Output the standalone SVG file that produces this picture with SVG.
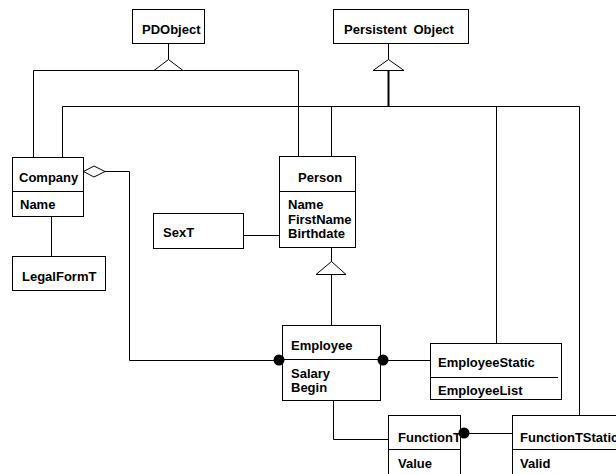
<svg xmlns="http://www.w3.org/2000/svg" width="616" height="474" viewBox="0 0 616 474">
<style>
.box{fill:#fff;stroke:#000;stroke-width:1}
.ln{fill:none;stroke:#000;stroke-width:1}
.tri{fill:#fff;stroke:#000;stroke-width:1}
.dot{fill:#000}
text{font-family:"Liberation Sans",Arial,sans-serif;font-weight:bold;font-size:13px;fill:#000}
</style>
<rect width="616" height="474" fill="#fff"/>
<g id="connectors">
<polyline class="ln" points="33.5,157 33.5,70.5 298.5,70.5 298.5,157"/>
<line class="ln" x1="168.5" y1="43.5" x2="168.5" y2="60"/>
<polygon class="tri" points="168.5,59.5 154,70.5 183,70.5"/>
<polyline class="ln" points="62.5,157 62.5,106.5 579.5,106.5 579.5,415.5"/>
<line class="ln" x1="331.5" y1="106.5" x2="331.5" y2="157"/>
<line class="ln" x1="496.5" y1="106.5" x2="496.5" y2="343.5"/>
<line class="ln" x1="388.5" y1="43.5" x2="388.5" y2="60"/>
<line class="ln" style="stroke-width:2" x1="388.5" y1="70" x2="388.5" y2="107"/>
<polygon class="tri" points="388.5,59.5 373,70.5 404,70.5"/>
<polyline class="ln" points="105,171.5 129.5,171.5 129.5,360.5 279,360.5"/>
<polygon class="tri" points="83.5,171.5 94,166 105,171.5 94,177"/>
<line class="ln" x1="51.5" y1="216.5" x2="51.5" y2="256.5"/>
<line class="ln" x1="243.5" y1="235.5" x2="279.5" y2="235.5"/>
<line class="ln" x1="331.5" y1="247.5" x2="331.5" y2="325.5"/>
<polygon class="tri" points="331.5,261.5 316,274.5 346,274.5"/>
<line class="ln" x1="383" y1="360.5" x2="430.5" y2="360.5"/>
<polyline class="ln" points="333.5,400.5 333.5,439.5 388.5,439.5"/>
<line class="ln" x1="464" y1="433.5" x2="512.5" y2="433.5"/>
</g>
<g id="PDObject">
<rect class="box" x="132.5" y="9.5" width="72" height="34"/>
<text x="142" y="34">PDObject</text>
</g>
<g id="PersistentObject">
<rect class="box" x="333.5" y="9.5" width="135" height="34"/>
<text x="344" y="34" style="word-spacing:3px">Persistent Object</text>
</g>
<g id="Company">
<rect class="box" x="12.5" y="157.5" width="71" height="59"/>
<line class="ln" x1="12.5" y1="191.5" x2="83.5" y2="191.5"/>
<text x="19" y="182">Company</text>
<text x="20" y="209">Name</text>
</g>
<g id="LegalFormT">
<rect class="box" x="12.5" y="256.5" width="93" height="34"/>
<text x="22" y="281">LegalFormT</text>
</g>
<g id="SexT">
<rect class="box" x="153.5" y="213.5" width="90" height="35"/>
<text x="163" y="237">SexT</text>
</g>
<g id="Person">
<rect class="box" x="279.5" y="156.5" width="76" height="91"/>
<line class="ln" x1="279.5" y1="191.5" x2="355.5" y2="191.5"/>
<text x="298" y="182">Person</text>
<text x="288" y="209">Name</text>
<text x="288" y="223.5">FirstName</text>
<text x="288" y="238">Birthdate</text>
</g>
<g id="Employee">
<rect class="box" x="282.5" y="325.5" width="98" height="75"/>
<line class="ln" x1="282.5" y1="359.5" x2="380.5" y2="359.5"/>
<text x="291" y="350">Employee</text>
<text x="291" y="378">Salary</text>
<text x="291" y="392">Begin</text>
<circle class="dot" cx="279" cy="360" r="5.5"/>
<circle class="dot" cx="383" cy="360" r="5.5"/>
</g>
<g id="EmployeeStatic">
<rect class="box" x="430.5" y="343.5" width="131" height="56"/>
<line class="ln" x1="430.5" y1="377.5" x2="558" y2="377.5"/>
<text x="438" y="367">EmployeeStatic</text>
<text x="438" y="395">EmployeeList</text>
<line class="ln" x1="430.5" y1="399.5" x2="561.5" y2="399.5"/>
</g>
<g id="FunctionT">
<rect class="box" x="388.5" y="415.5" width="72" height="70"/>
<line class="ln" x1="388.5" y1="449.5" x2="460.5" y2="449.5"/>
<text x="398" y="442">FunctionT</text>
<text x="398" y="468">Value</text>
<circle class="dot" cx="464" cy="433" r="5.5"/>
</g>
<g id="FunctionTStatic">
<rect class="box" x="512.5" y="415.5" width="120" height="70"/>
<line class="ln" x1="512.5" y1="449.5" x2="632.5" y2="449.5"/>
<text x="520" y="442">FunctionTStatic</text>
<text x="520" y="468">Valid</text>
</g>
</svg>
